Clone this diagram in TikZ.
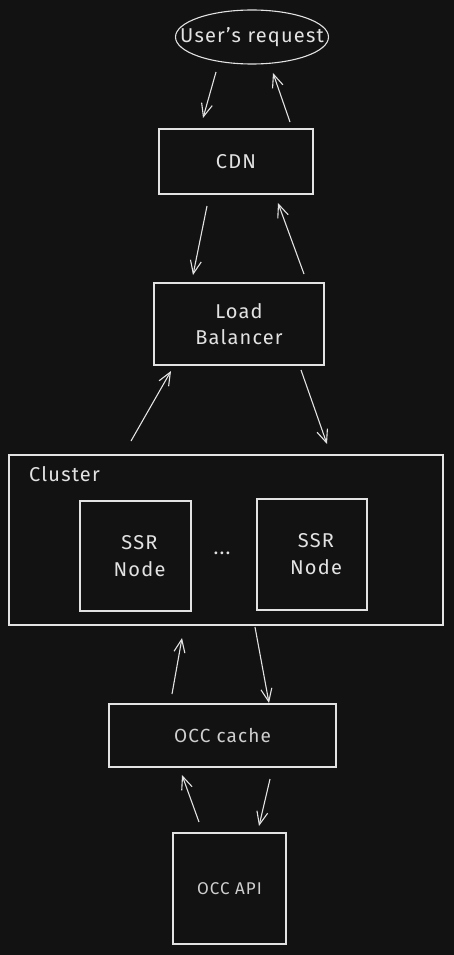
\documentclass[tikz,border=0pt]{standalone}
\usepackage{fontspec}
\setmainfont[LetterSpace=6]{Fira Sans}
\usetikzlibrary{arrows.meta}
\definecolor{bg}{HTML}{121212}
\definecolor{ink}{HTML}{E2E2E2}
\definecolor{inksoft}{HTML}{CFCFCF}
\tikzset{
  box/.style={draw=ink, line width=1.1pt, text=ink, align=center, inner sep=0pt},
  lbl/.style={text=ink, align=center, inner sep=0pt},
  arr/.style={draw=ink, line width=1.1pt, -{Straight Barb[length=13pt,width=11pt,line width=1.1pt]}},
}
\begin{document}
\begin{tikzpicture}[x=1pt,y=-1pt]
\fill[bg] (0,0) rectangle (454,955);
\useasboundingbox (0,0) rectangle (454,955);

\node[lbl, font=\fontsize{20}{24}\selectfont] (user) at (252,37) {User's request};
\draw[draw=ink, line width=1.1pt] (user.center) ellipse [x radius=76.5pt, y radius=27pt];
\node[box, minimum width=154pt, minimum height=65pt, font=\fontsize{20}{24}\selectfont] (cdn) at (236,161.5) {CDN};
\node[box, minimum width=170pt, minimum height=82pt, font=\fontsize{20}{26}\selectfont] (lb) at (239,324) {Load\\Balancer};
\node[box, minimum width=434pt, minimum height=170pt] (cluster) at (226,540) {};
\node[lbl, anchor=west, font=\fontsize{20}{24}\selectfont] (clusterlbl) at (29,474) {Cluster};
\node[box, minimum width=111pt, minimum height=110pt] (ssr1) at (135.5,556) {};
\node[lbl, font=\fontsize{20}{27}\selectfont] (ssr1t) at ([xshift=4pt]ssr1.center) {SSR\\Node};
\node[lbl, font=\fontsize{20}{24}\selectfont] (dots) at (222,553) {...};
\node[box, minimum width=110pt, minimum height=111pt] (ssr2) at (312,554.5) {};
\node[lbl, font=\fontsize{20}{27}\selectfont] (ssr2t) at ([xshift=4pt]ssr2.center) {SSR\\Node};
\node[box, minimum width=227pt, minimum height=63pt, text=inksoft, font=\fontsize{19}{22}\selectfont] (cache) at (222.5,735.5) {OCC cache};
\node[box, minimum width=113pt, minimum height=111pt, text=inksoft, font=\fontsize{17}{20}\selectfont] (api) at (229.5,888.5) {OCC API};

% arrow endpoints
\coordinate (a1s) at (216,72);  \coordinate (a1e) at (203,118);
\coordinate (a2s) at (290,122); \coordinate (a2e) at (273,73);
\coordinate (a3s) at (207,206); \coordinate (a3e) at (193,275);
\coordinate (a4s) at (304,274); \coordinate (a4e) at (278,203);
\coordinate (a5s) at (131,441); \coordinate (a5e) at (171,371);
\coordinate (a6s) at (301,370); \coordinate (a6e) at (327,444);
\coordinate (a7s) at (172,694); \coordinate (a7e) at (182,638);
\coordinate (a8s) at (255,627); \coordinate (a8e) at (269,703);
\coordinate (a9s) at (199,822); \coordinate (a9e) at (182,775);
\coordinate (a10s) at (270,779); \coordinate (a10e) at (259,826);

\draw[arr] (a1s) -- (a1e);
\draw[arr] (a2s) -- (a2e);
\draw[arr] (a3s) -- (a3e);
\draw[arr] (a4s) -- (a4e);
\draw[arr] (a5s) -- (a5e);
\draw[arr] (a6s) -- (a6e);
\draw[arr] (a7s) -- (a7e);
\draw[arr] (a8s) -- (a8e);
\draw[arr] (a9s) -- (a9e);
\draw[arr] (a10s) -- (a10e);
\end{tikzpicture}
\end{document}
